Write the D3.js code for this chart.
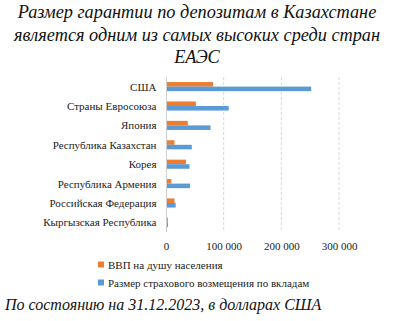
<!DOCTYPE html>
<html>
<head>
<meta charset="utf-8">
<script src="https://cdn.jsdelivr.net/npm/d3@7"></script>
<style>
  body { margin: 0; background: #fff; }
</style>
</head>
<body>
<script>
(function() {

//chart data
    var countries = ['США', 'Страны Евросоюза', 'Япония', 'Республика Казахстан', 'Корея', 'Республика Армения', 'Российская Федерация', 'Кыргызская Республика'];
    var gdpPerCapita = [80000, 50000, 36000, 13000, 33000, 7500, 13000, 1500];
    var insurance = [250000, 107000, 75500, 43000, 39000, 40000, 15000, 1800];
    var tickValues = [0, 100000, 200000, 300000];
    var seriesNames = ['ВВП на душу населения', 'Размер страхового возмещения по вкладам'];
    var seriesColors = ['#ED7D31', '#5B9BD5'];

    var serif = 'Liberation Serif';
    var width = 412, height = 321;
    var plotLeft = 166, plotRight = 339, plotTop = 77, plotBottom = 232;

    var svg = d3.select('body').append('svg')
        .attr('width', width)
        .attr('height', height);

    //title lines
    var titleLines = ['Размер гарантии по депозитам в Казахстане', 'является одним из самых высоких среди стран', 'ЕАЭС'];
    svg.selectAll('.title')
        .data(titleLines)
        .enter()
        .append('text')
        .attr('class', 'title')
        .attr('x', 197)
        .attr('y', function(d, i) { return 18.3 + i * 22.2; })
        .attr('text-anchor', 'middle')
        .attr('font-family', serif)
        .attr('font-style', 'italic')
        .attr('font-size', 18.3)
        .attr('fill', '#111')
        .text(function(d) { return d; });

    var x = d3.scaleLinear()
        .domain([0, 300000])
        .range([plotLeft, plotRight]);

    var y = d3.scaleBand()
        .domain(countries)
        .range([plotTop, plotBottom])
        .paddingInner(0.53)
        .paddingOuter(0.26);

    var barH = y.bandwidth() / 2;

    //dashed gridlines
    svg.selectAll('.grid')
        .data(tickValues.slice(1))
        .enter()
        .append('line')
        .attr('x1', function(d) { return x(d); })
        .attr('x2', function(d) { return x(d); })
        .attr('y1', plotTop)
        .attr('y2', plotBottom)
        .attr('stroke', '#d9d9d9')
        .attr('stroke-dasharray', '3,2')
        .attr('stroke-width', 1);

    //category axis line
    svg.append('line')
        .attr('x1', plotLeft + 0.5)
        .attr('x2', plotLeft + 0.5)
        .attr('y1', plotTop)
        .attr('y2', plotBottom)
        .attr('stroke', '#d0d0d0');

    //bars
    var groups = [gdpPerCapita, insurance];
    groups.forEach(function(vals, s) {
        svg.selectAll('.bar' + s)
            .data(vals)
            .enter()
            .append('rect')
            .attr('class', 'bar' + s)
            .attr('x', x(0) + 1)
            .attr('y', function(d, i) { return y(countries[i]) + s * barH; })
            .attr('width', function(d) { return x(d) - x(0); })
            .attr('height', barH)
            .attr('fill', seriesColors[s]);
    });

    //category labels
    svg.selectAll('.cat')
        .data(countries)
        .enter()
        .append('text')
        .attr('x', 156.5)
        .attr('y', function(d) { return y(d) + y.bandwidth() / 2 + 4; })
        .attr('text-anchor', 'end')
        .attr('font-family', serif)
        .attr('font-size', 11)
        .attr('fill', '#222')
        .text(function(d) { return d; });

    //value axis
    var xAxis = d3.axisBottom(x)
        .tickValues(tickValues)
        .tickSize(0)
        .tickPadding(10)
        .tickFormat(function(d) { return d3.format(',')(d).replace(/,/g, ' '); });

    var axis = svg.append('g')
        .attr('transform', 'translate(0,' + plotBottom + ')')
        .call(xAxis)
        .attr('font-family', serif)
        .attr('font-size', 11);
    axis.select('.domain').remove();
    axis.selectAll('text')
        .attr('fill', '#222');

    //legend
    var legend = svg.selectAll('.legend')
        .data(seriesNames)
        .enter()
        .append('g')
        .attr('transform', function(d, i) { return 'translate(98,' + (265 + i * 18) + ')'; });
    legend.append('rect')
        .attr('x', 0)
        .attr('y', -3.5)
        .attr('width', 6)
        .attr('height', 6)
        .attr('fill', function(d, i) { return seriesColors[i]; });
    legend.append('text')
        .attr('x', 10)
        .attr('y', 4)
        .attr('font-family', serif)
        .attr('font-size', 11)
        .attr('fill', '#222')
        .text(function(d) { return d; });

    //footnote
    svg.append('text')
        .attr('x', 5)
        .attr('y', 310)
        .attr('font-family', serif)
        .attr('font-style', 'italic')
        .attr('font-size', 16)
        .attr('fill', '#111')
        .text('По состоянию на 31.12.2023, в долларах США');

})();
</script>
</body>
</html>
